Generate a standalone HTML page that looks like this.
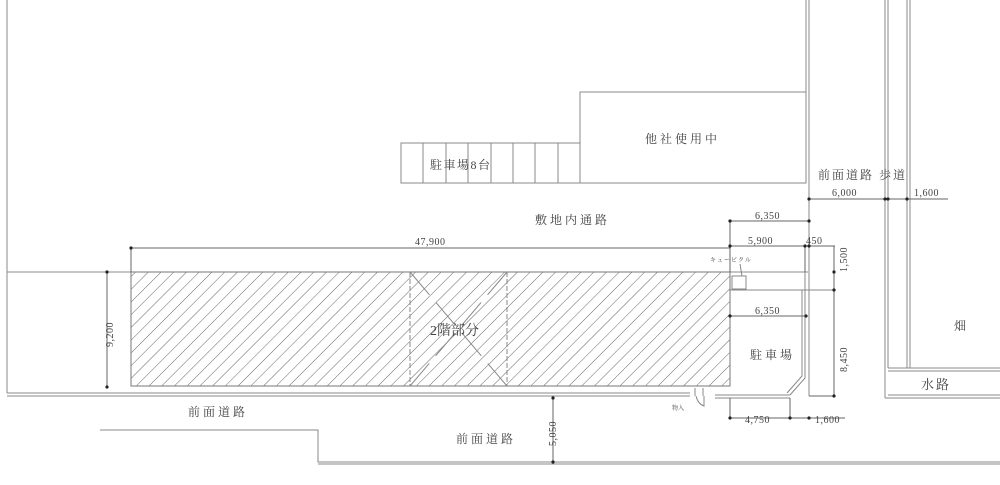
<!DOCTYPE html>
<html><head><meta charset="utf-8"><style>
html,body{margin:0;padding:0;background:#fff;width:1000px;height:485px;overflow:hidden}
svg text{font-family:"Liberation Serif","Noto Serif CJK SC",serif;fill:#444}
</style></head><body>
<svg width="1000" height="485" viewBox="0 0 1000 485" xmlns="http://www.w3.org/2000/svg">
<defs>
<pattern id="h" patternUnits="userSpaceOnUse" width="9" height="9" patternTransform="rotate(45)">
<line x1="0" y1="0" x2="0" y2="9" stroke="#666" stroke-width="1"/>
</pattern>
</defs>
<g stroke="#888" stroke-width="1" fill="none">
<line x1="7" y1="0" x2="7" y2="393"/>
<line x1="7" y1="272" x2="808" y2="272"/>
<line x1="7" y1="393" x2="690" y2="393"/>
<line x1="7" y1="396" x2="690" y2="396"/>
<line x1="715" y1="395" x2="790" y2="395"/>
<line x1="715" y1="398" x2="790" y2="398"/>
<polyline points="100,430 318,430 318,462 1000,462"/>
<line x1="318" y1="464" x2="1000" y2="464"/>
<rect x="401" y="143" width="179" height="40"/>
<line x1="423" y1="143" x2="423" y2="183"/><line x1="446" y1="143" x2="446" y2="183"/>
<line x1="468" y1="143" x2="468" y2="183"/><line x1="491" y1="143" x2="491" y2="183"/>
<line x1="513" y1="143" x2="513" y2="183"/><line x1="535" y1="143" x2="535" y2="183"/>
<line x1="558" y1="143" x2="558" y2="183"/>
<rect x="580" y="92" width="226" height="91"/>
<line x1="809" y1="0" x2="809" y2="396"/>
<line x1="806" y1="0" x2="806" y2="183"/>
<polyline points="805,290 805,378 790,395"/>
<polyline points="802,290 802,376 787,393"/>
<rect x="730" y="272" width="75" height="18"/>
<line x1="805" y1="290" x2="835" y2="290"/>
<rect x="732" y="276" width="14" height="13"/>
<line x1="740" y1="264" x2="742" y2="276"/>
<line x1="885" y1="0" x2="885" y2="398"/>
<line x1="888" y1="0" x2="888" y2="368"/>
<line x1="907" y1="0" x2="907" y2="368"/>
<line x1="910" y1="0" x2="910" y2="368"/>
<line x1="888" y1="368" x2="1000" y2="368"/>
<line x1="888" y1="371" x2="1000" y2="371"/>
<line x1="888" y1="395" x2="1000" y2="395"/>
<line x1="885" y1="398" x2="1000" y2="398"/>
<path d="M695,388 v8 M703,388 v8 M696,396 q2,8 8,10 v-10"/>
</g>
<rect x="131" y="272" width="599" height="114" fill="url(#h)" stroke="#777"/>
<g stroke="#888" fill="none">
<line x1="410" y1="272" x2="410" y2="386" stroke-dasharray="5,2"/>
<line x1="507" y1="272" x2="507" y2="386" stroke-dasharray="5,2"/>
<line x1="410" y1="272" x2="507" y2="386" stroke-dasharray="30,10"/>
<line x1="507" y1="272" x2="410" y2="386" stroke-dasharray="30,10"/>
</g>
<g stroke="#666" stroke-width="1">
<line x1="131" y1="248" x2="730" y2="248"/><line x1="131" y1="248" x2="131" y2="272"/>
<line x1="107" y1="272" x2="107" y2="387"/>
<line x1="553" y1="398" x2="553" y2="462"/>
<line x1="809" y1="199" x2="948" y2="199"/>
<line x1="730" y1="221" x2="809" y2="221"/><line x1="730" y1="221" x2="730" y2="272"/>
<line x1="730" y1="246" x2="835" y2="246"/><line x1="805" y1="246" x2="805" y2="272"/>
<line x1="834" y1="246" x2="834" y2="396"/>
<line x1="730" y1="316" x2="806" y2="316"/>
<line x1="730" y1="418" x2="845" y2="418"/>
<line x1="730" y1="398" x2="730" y2="418"/><line x1="790" y1="398" x2="790" y2="418"/>
<line x1="809" y1="396" x2="834" y2="396"/>
</g>
<g fill="#222">
<circle cx="131" cy="248" r="1.6"/><circle cx="107" cy="272" r="1.6"/><circle cx="107" cy="387" r="1.6"/>
<circle cx="553" cy="398" r="1.6"/><circle cx="553" cy="462" r="1.6"/>
<circle cx="809" cy="199" r="1.6"/><circle cx="885" cy="199" r="1.6"/><circle cx="888" cy="199" r="1.6"/><circle cx="907" cy="199" r="1.6"/>
<circle cx="730" cy="221" r="1.6"/><circle cx="809" cy="221" r="1.6"/>
<circle cx="730" cy="246" r="1.6"/><circle cx="805" cy="246" r="1.6"/><circle cx="809" cy="246" r="1.6"/>
<circle cx="834" cy="272" r="1.6"/><circle cx="834" cy="290" r="1.6"/><circle cx="834" cy="396" r="1.6"/>
<circle cx="730" cy="316" r="1.6"/><circle cx="806" cy="316" r="1.6"/>
<circle cx="730" cy="418" r="1.6"/><circle cx="790" cy="418" r="1.6"/><circle cx="809" cy="418" r="1.6"/>
</g>
<g font-size="10" letter-spacing="0.5">
<text x="415" y="245">47,900</text>
<text x="832" y="196">6,000</text>
<text x="914" y="196">1,600</text>
<text x="755" y="219">6,350</text>
<text x="748" y="244">5,900</text>
<text x="806" y="244">450</text>
<text x="755" y="314">6,350</text>
<text x="745" y="423">4,750</text>
<text x="815" y="423">1,600</text>
<text transform="translate(113,347) rotate(-90)">9,200</text>
<text transform="translate(556,446) rotate(-90)">5,050</text>
<text transform="translate(847,272) rotate(-90)">1,500</text>
<text transform="translate(847,372) rotate(-90)">8,450</text>
</g>
<g font-size="12" letter-spacing="3">
<text x="430" y="169" letter-spacing="1.5">駐車場8台</text>
<text x="645" y="143">他社使用中</text>
<text x="818" y="179" letter-spacing="2">前面道路 歩道</text>
<text x="535" y="224">敷地内通路</text>
<text x="188" y="416">前面道路</text>
<text x="456" y="443">前面道路</text>
<text x="750" y="359">駐車場</text>
<text x="954" y="330">畑</text>
<text x="921" y="389" font-size="13" letter-spacing="2">水路</text>
<text x="430" y="335" font-size="14" letter-spacing="0">2階部分</text>
</g>
<text x="710" y="262" font-size="6" letter-spacing="1">キュービクル</text>
<text x="672" y="410" font-size="6">物入</text>
</svg>
</body></html>
